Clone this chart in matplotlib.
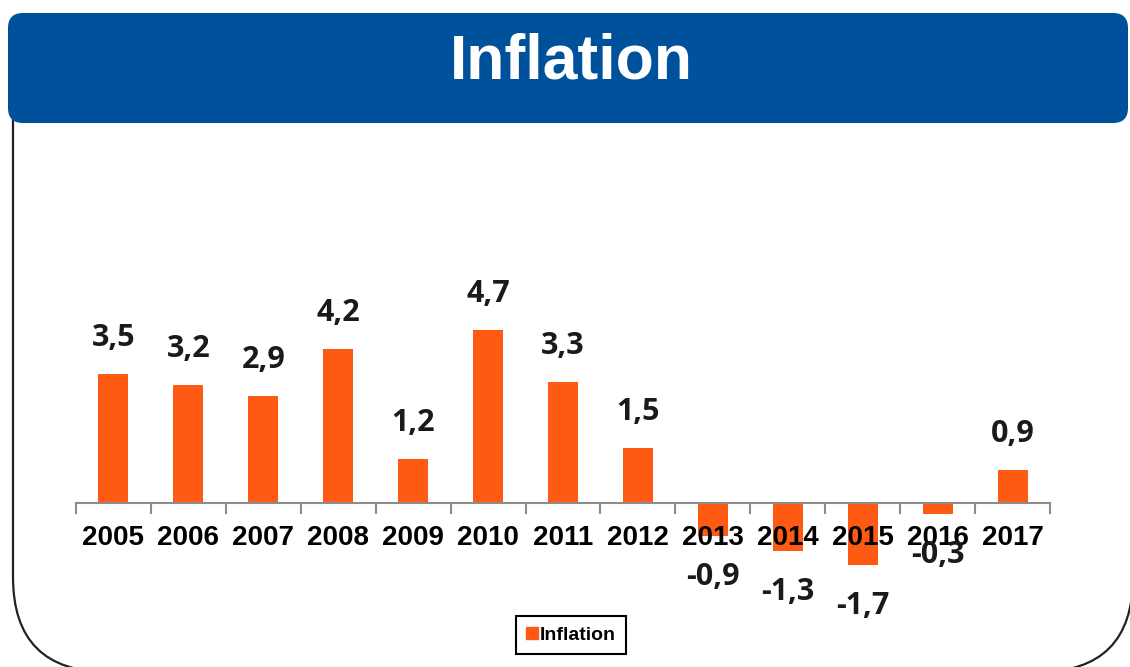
import matplotlib
matplotlib.use('Agg')
import matplotlib.pyplot as plt
from matplotlib.patches import FancyBboxPatch, Rectangle
from matplotlib.lines import Line2D
import numpy as np

years = ['2005', '2006', '2007', '2008', '2009', '2010', '2011',
         '2012', '2013', '2014', '2015', '2016', '2017']
inflation = [3.5, 3.2, 2.9, 4.2, 1.2, 4.7, 3.3, 1.5, -0.9, -1.3, -1.7, -0.3, 0.9]

W, H = 1130, 667
orange = '#FF5A14'
blue = '#00519B'

fig = plt.figure(figsize=(W / 100, H / 100), dpi=100)

# background: frame with rounded bottom corners + title bar (pixel coordinates)
bg = fig.add_axes([0, 0, 1, 1])
bg.set_xlim(0, W)
bg.set_ylim(H, 0)
bg.axis('off')
frame = FancyBboxPatch((13, -200), 1120, 872, boxstyle='round,pad=0,rounding_size=95',
                       facecolor='white', edgecolor='#222222', linewidth=1.6)
bg.add_patch(frame)
frame.set_clip_path(Rectangle((0, 60), W, H, transform=bg.transData))
bar_title = FancyBboxPatch((8, 13), 1120, 110, boxstyle='round,pad=0,rounding_size=15',
                           facecolor=blue, edgecolor='none')
bg.add_patch(bar_title)
bg.text(571, 62, 'Inflation', color='white', fontsize=45, fontweight='bold',
        family='Liberation Sans', ha='center', va='center')

# chart
ax = fig.add_axes([76 / W, 1 - 620 / H, (1050 - 76) / W, 490 / H])
ax.patch.set_alpha(0)
x = np.arange(len(years))
ax.bar(x, inflation, width=0.4, color=orange)
ax.set_xlim(-0.5, len(years) - 0.5)
ax.set_ylim(-3.19, 10.16)

for s in ['top', 'right', 'left']:
    ax.spines[s].set_visible(False)
ax.spines['bottom'].set_position(('data', 0))
ax.spines['bottom'].set_color('#8C8C8C')
ax.spines['bottom'].set_linewidth(1.5)
ax.set_yticks([])

ax.set_xticks(x)
ax.set_xticklabels(years, fontsize=20, fontweight='bold', family='Liberation Sans')
ax.tick_params(axis='x', which='major', length=0, pad=16)
ax.set_xticks(np.arange(-0.5, len(years)), minor=True)
ax.tick_params(axis='x', which='minor', length=8, width=1.5, color='#8C8C8C')

for xi, v in zip(x, inflation):
    lbl = f'{v:.1f}'.replace('.', ',')
    if v >= 0:
        ax.annotate(lbl, (xi, v), xytext=(0, 28), textcoords='offset pixels',
                    ha='center', va='baseline', fontsize=22, fontweight='bold',
                    family='Open Sans', color='#1a1a1a')
    else:
        ax.annotate(lbl, (xi, v), xytext=(0, -26), textcoords='offset pixels',
                    ha='center', va='top', fontsize=22, fontweight='bold',
                    family='Open Sans', color='#1a1a1a')

handle = Line2D([], [], marker='s', color=orange, linestyle='none', markersize=8)
leg = fig.legend([handle], ['Inflation'], loc='center',
                 bbox_to_anchor=(571 / W, 1 - 635 / H),
                 prop={'family': 'Liberation Sans', 'weight': 'bold', 'size': 14},
                 handlelength=0.6, handletextpad=0.1, fancybox=False,
                 borderpad=0.5, framealpha=1)
leg.get_frame().set_edgecolor('black')
leg.get_frame().set_linewidth(1.5)

fig.savefig('out.png', dpi=100)
